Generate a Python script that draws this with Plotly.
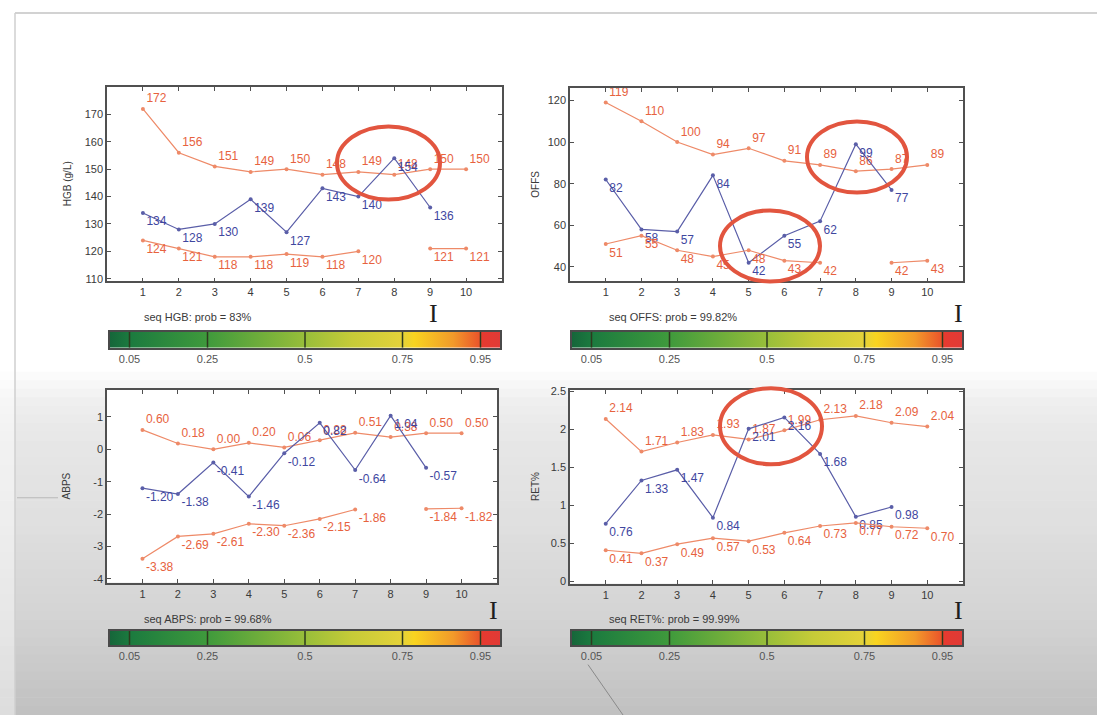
import plotly.graph_objects as go

W, H = 1097, 719

# ---------------- data ----------------
visits = [1, 2, 3, 4, 5, 6, 7, 8, 9, 10]

hgb_upper = [172, 156, 151, 149, 150, 148, 149, 148, 150, 150]
hgb_seq = [134, 128, 130, 139, 127, 143, 140, 154, 136, None]
hgb_lower = [124, 121, 118, 118, 119, 118, 120, None, 121, 121]

offs_upper = [119, 110, 100, 94, 97, 91, 89, 86, 87, 89]
offs_seq = [82, 58, 57, 84, 42, 55, 62, 99, 77, None]
offs_lower = [51, 55, 48, 45, 48, 43, 42, None, 42, 43]

abps_upper = [0.60, 0.18, 0.00, 0.20, 0.06, 0.28, 0.51, 0.38, 0.50, 0.50]
abps_seq = [-1.20, -1.38, -0.41, -1.46, -0.12, 0.82, -0.64, 1.04, -0.57, None]
abps_lower = [-3.38, -2.69, -2.61, -2.30, -2.36, -2.15, -1.86, None, -1.84, -1.82]

ret_upper = [2.14, 1.71, 1.83, 1.93, 1.87, 1.99, 2.13, 2.18, 2.09, 2.04]
ret_seq = [0.76, 1.33, 1.47, 0.84, 2.01, 2.16, 1.68, 0.85, 0.98, None]
ret_lower = [0.41, 0.37, 0.49, 0.57, 0.53, 0.64, 0.73, 0.77, 0.72, 0.70]

panel_titles = ["HGB (g/L)", "OFFS", "ABPS", "RET%"]
panel_captions = ["seq HGB: prob = 83%", "seq OFFS: prob = 99.82%",
                  "seq ABPS: prob = 99.68%", "seq RET%: prob = 99.99%"]

hgb_ticks = [110, 120, 130, 140, 150, 160, 170]
offs_ticks = [40, 60, 80, 100, 120]
abps_ticks = [-4, -3, -2, -1, 0, 1]
ret_ticks = [0, 0.5, 1, 1.5, 2, 2.5]

cb_ticks = [0.05, 0.25, 0.5, 0.75, 0.95]
cb_labels = ["0.05", "0.25", "0.5", "0.75", "0.95"]

# ---------------- style ----------------
ORANGE_LINE = "#ee8a68"
ORANGE_TXT = "#e7623e"
BLUE_LINE = "#5a5ea8"
BLUE_TXT = "#3f479f"
AXIS_COL = "#505050"
TXT_COL = "#3a3a3a"
FONT = "Liberation Sans"
RED_RING = "#e2553f"

CB_SCALE = [[0.0, "#16663a"], [0.05, "#1b7a3f"], [0.25, "#3f9a3c"],
            [0.5, "#98be3a"], [0.62, "#c6cb38"], [0.75, "#e4d23a"],
            [0.78, "#f8d420"], [0.88, "#f29a2a"], [0.95, "#e9522b"],
            [0.955, "#e63a30"], [1.0, "#e03a36"]]


def px(x):
    return x / W


def py(y):
    return 1 - y / H


panels = [
    dict(box=(107, 502, 83, 280), yr=[109, 180], ticks=hgb_ticks, fmt="{:.0f}",
         series=(hgb_upper, hgb_seq, hgb_lower), cb=(110, 500, 331, 347),
         title_x=67, cap=(142, 316), beam=(433, 312)),
    dict(box=(570, 963, 84, 280), yr=[33, 126], ticks=offs_ticks, fmt="{:.0f}",
         series=(offs_upper, offs_seq, offs_lower), cb=(572, 962, 331, 347),
         title_x=536, cap=(607, 316), beam=(958, 312)),
    dict(box=(107, 497, 390, 585), yr=[-4.12, 1.83], ticks=abps_ticks, fmt="{:.2f}",
         series=(abps_upper, abps_seq, abps_lower), cb=(110, 500, 634, 648),
         title_x=66, cap=(142, 622), beam=(493, 613)),
    dict(box=(570, 963, 390, 586), yr=[-0.03, 2.52], ticks=ret_ticks, fmt="{:.2f}",
         series=(ret_upper, ret_seq, ret_lower), cb=(572, 962, 634, 648),
         title_x=536, cap=(607, 622), beam=(958, 613)),
]

fig = go.Figure()
shapes = []
annotations = []
layout_axes = {}

# ---------------- background (projected slide look) ----------------
grey_stops = [(0, 255), (372, 253), (405, 238), (440, 231), (520, 224),
              (620, 212), (719, 192)]
bands = 40
y_start = 372
for b in range(bands):
    ya = y_start + (H - y_start) * b / bands
    yb = y_start + (H - y_start) * (b + 1) / bands
    ym = (ya + yb) / 2
    for (y0, g0), (y1, g1) in zip(grey_stops[:-1], grey_stops[1:]):
        if y0 <= ym <= y1:
            g = int(round(g0 + (g1 - g0) * (ym - y0) / (y1 - y0)))
            break
    shapes.append(dict(type="rect", xref="paper", yref="paper", layer="below",
                       x0=0, x1=1, y0=py(yb), y1=py(ya) + 0.001,
                       line=dict(width=0), fillcolor=f"rgb({g},{g},{g})"))
# lighter strip at far left
shapes.append(dict(type="rect", xref="paper", yref="paper", layer="below",
                   x0=0, x1=px(15), y0=0, y1=py(8),
                   line=dict(width=0), fillcolor="rgba(255,255,255,0.45)"))
# frame lines of the screen capture
shapes.append(dict(type="line", xref="paper", yref="paper", layer="below",
                   x0=px(15), x1=1, y0=py(8), y1=py(8),
                   line=dict(color="#d2d2d2", width=2)))
shapes.append(dict(type="line", xref="paper", yref="paper", layer="below",
                   x0=px(15), x1=px(15), y0=0, y1=py(8),
                   line=dict(color="#cfcfcf", width=1.5)))
shapes.append(dict(type="line", xref="paper", yref="paper",
                   x0=px(17), x1=px(58), y0=py(499), y1=py(499),
                   line=dict(color="#b8b8b8", width=1)))
shapes.append(dict(type="line", xref="paper", yref="paper",
                   x0=px(588), x1=px(623), y0=py(668), y1=py(719),
                   line=dict(color="#8a8a8a", width=1)))

for i, p in enumerate(panels, start=1):
    x0, x1, y0, y1 = p["box"]
    xa = "x" if i == 1 else f"x{i}"
    ya = "y" if i == 1 else f"y{i}"
    # white plot area
    shapes.append(dict(type="rect", xref="paper", yref="paper", layer="below",
                       x0=px(x0), x1=px(x1), y0=py(y1), y1=py(y0),
                       line=dict(width=0), fillcolor="white"))

    upper, seq, lower = p["series"]
    specs = [(upper, ORANGE_LINE, ORANGE_TXT, "top right"),
             (seq, BLUE_LINE, BLUE_TXT, "bottom right"),
             (lower, ORANGE_LINE, ORANGE_TXT, "bottom right")]
    for vals, lc, tc, pos in specs:
        fig.add_trace(go.Scatter(
            x=visits, y=vals, mode="lines+markers+text",
            text=["" if v is None else p["fmt"].format(v) for v in vals],
            textposition=pos,
            textfont=dict(family=FONT, size=12, color=tc),
            line=dict(color=lc, width=1.2),
            marker=dict(color=lc, size=4),
            cliponaxis=False, showlegend=False, hoverinfo="skip",
            xaxis=xa, yaxis=ya))

    tick_txt = [("{:g}".format(t)) for t in p["ticks"]]
    layout_axes[f"xaxis{'' if i == 1 else i}"] = dict(
        domain=[px(x0), px(x1)], range=[0, 11], anchor=ya,
        tickvals=visits, ticktext=[str(v) for v in visits],
        ticks="inside", ticklen=4, tickcolor=AXIS_COL, tickwidth=1,
        showline=True, mirror="allticks", linecolor=AXIS_COL, linewidth=1.5,
        showgrid=False, zeroline=False,
        tickfont=dict(family=FONT, size=11, color=TXT_COL))
    layout_axes[f"yaxis{'' if i == 1 else i}"] = dict(
        domain=[py(y1), py(y0)], range=p["yr"], anchor=xa,
        tickvals=p["ticks"], ticktext=tick_txt,
        ticks="inside", ticklen=4, tickcolor=AXIS_COL, tickwidth=1,
        showline=True, mirror="allticks", linecolor=AXIS_COL, linewidth=1.5,
        showgrid=False, zeroline=False,
        tickfont=dict(family=FONT, size=11, color=TXT_COL))

    # y axis title
    annotations.append(dict(xref="paper", yref="paper", x=px(p["title_x"]),
                            y=py((y0 + y1) / 2), text=panel_titles[i - 1],
                            textangle=-90, showarrow=False,
                            font=dict(family=FONT, size=10, color=TXT_COL),
                            xanchor="center", yanchor="middle"))
    # caption
    cx, cy = p["cap"]
    annotations.append(dict(xref="paper", yref="paper", x=px(cx), y=py(cy),
                            text=panel_captions[i - 1], showarrow=False,
                            font=dict(family=FONT, size=11, color=TXT_COL),
                            xanchor="left", yanchor="middle"))
    # text cursor glyph
    bx, by = p["beam"]
    annotations.append(dict(xref="paper", yref="paper", x=px(bx), y=py(by),
                            text="I", showarrow=False,
                            font=dict(family="Liberation Serif", size=26, color="#1e1e1e"),
                            xanchor="center", yanchor="middle"))

    # colour bar
    j = i + 4
    cx0, cx1, cy0, cy1 = p["cb"]
    fig.add_trace(go.Scatter(
        x=[0, 1, 1, 0, 0], y=[0, 0, 1, 1, 0], mode="lines", fill="toself",
        fillgradient=dict(type="horizontal", colorscale=CB_SCALE),
        line=dict(width=0), showlegend=False, hoverinfo="skip",
        xaxis=f"x{j}", yaxis=f"y{j}"))
    for t in cb_ticks:
        shapes.append(dict(type="line", xref=f"x{j}", yref=f"y{j}",
                           x0=t, x1=t, y0=0, y1=1,
                           line=dict(color="#2e3a1e", width=1.5)))
    layout_axes[f"xaxis{j}"] = dict(
        domain=[px(cx0), px(cx1)], range=[0, 1], anchor=f"y{j}",
        tickvals=cb_ticks, ticktext=cb_labels, ticks="", showline=True,
        mirror=True, linecolor="#4a4a4a", linewidth=1.5, showgrid=False,
        zeroline=False, tickfont=dict(family=FONT, size=11, color="#555"))
    layout_axes[f"yaxis{j}"] = dict(
        domain=[py(cy1), py(cy0)], range=[0, 1], anchor=f"x{j}",
        showticklabels=False, ticks="", showline=True, mirror=True,
        linecolor="#4a4a4a", linewidth=1.5, showgrid=False, zeroline=False)

# red hand-drawn rings (paper coordinates)
rings = [(337, 440, 123, 197), (807, 907, 118, 190),
         (720, 820, 208, 280), (720, 822, 388, 465)]
for rx0, rx1, ry0, ry1 in rings:
    shapes.append(dict(type="circle", xref="paper", yref="paper",
                       x0=px(rx0), x1=px(rx1), y0=py(ry1), y1=py(ry0),
                       line=dict(color=RED_RING, width=4)))

fig.update_layout(
    width=W, height=H, margin=dict(l=0, r=0, t=0, b=0),
    paper_bgcolor="white", plot_bgcolor="white",
    shapes=shapes, annotations=annotations, showlegend=False,
    **layout_axes)

fig.write_html(
    "out.html",
    config={"displayModeBar": False},
    post_script="document.body.style.margin='0';document.body.style.overflow='hidden';")
